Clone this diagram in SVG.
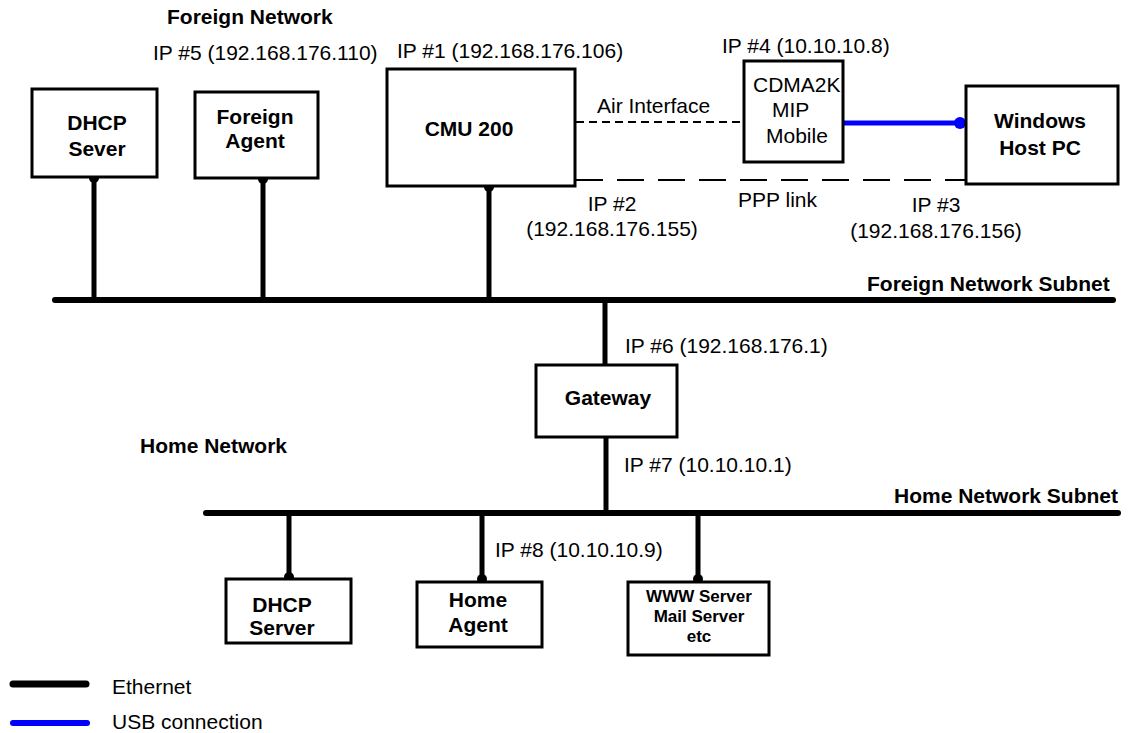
<svg xmlns="http://www.w3.org/2000/svg" width="1130" height="733" viewBox="0 0 1130 733">
<style>
text{font-family:"Liberation Sans",Arial,sans-serif;font-size:21px;fill:#000}
.b{font-weight:bold}
.s{font-size:17px;font-weight:bold}
.m{text-anchor:middle}
.box{fill:#fff;stroke:#000;stroke-width:3}
.eth{stroke:#000;stroke-width:6;stroke-linecap:round;fill:none}
.drop{stroke:#000;stroke-width:5;fill:none}
.usb{stroke:#0000ff;stroke-width:5;fill:none}
.air{stroke:#000;stroke-width:2;stroke-dasharray:8 5;fill:none}
.ppp{stroke:#000;stroke-width:2;stroke-dasharray:27 14;fill:none}
</style>
<rect width="1130" height="733" fill="#fff"/>
<g id="labels">
<text class="b" x="167" y="24">Foreign Network</text>
<text x="153" y="60">IP #5 (192.168.176.110)</text>
<text x="397" y="58">IP #1 (192.168.176.106)</text>
<text x="722" y="53">IP #4 (10.10.10.8)</text>
<text x="597" y="113">Air Interface</text>
<text x="738" y="207">PPP link</text>
<text class="m" x="612" y="211">IP #2</text>
<text class="m" x="612" y="236">(192.168.176.155)</text>
<text class="m" x="936" y="212">IP #3</text>
<text class="m" x="936" y="238">(192.168.176.156)</text>
<text class="b" x="867" y="291">Foreign Network Subnet</text>
<text x="625" y="353">IP #6 (192.168.176.1)</text>
<text class="b" x="140" y="453">Home Network</text>
<text x="624" y="472">IP #7 (10.10.10.1)</text>
<text class="b" text-anchor="end" x="1118" y="503">Home Network Subnet</text>
<text x="495" y="557">IP #8 (10.10.10.9)</text>
</g>
<g id="connectors">
<line class="eth" x1="55" y1="300" x2="1113" y2="300"/>
<line class="eth" x1="206" y1="513" x2="1118" y2="513"/>
<line class="drop" x1="94" y1="177" x2="94" y2="300"/>
<line class="drop" x1="263" y1="178" x2="263" y2="300"/>
<line class="drop" x1="489" y1="186" x2="489" y2="300"/>
<line class="drop" x1="605" y1="300" x2="605" y2="365"/>
<line class="drop" x1="606" y1="437" x2="606" y2="513"/>
<line class="drop" x1="289" y1="513" x2="289" y2="579"/>
<line class="drop" x1="482" y1="513" x2="482" y2="582"/>
<line class="drop" x1="698" y1="513" x2="698" y2="582"/>
<line class="air" x1="576" y1="122" x2="744" y2="122"/>
<line class="ppp" x1="576" y1="180" x2="966" y2="180"/>
<line class="usb" x1="843" y1="123" x2="960" y2="123"/>
<circle cx="94" cy="178" r="5"/>
<circle cx="263" cy="179" r="5"/>
<circle cx="489" cy="187" r="5"/>
<circle cx="289" cy="577" r="5"/>
<circle cx="482" cy="579" r="5"/>
<circle cx="698" cy="579" r="5"/>
<circle cx="960" cy="123" r="6" fill="#0000ff"/>
</g>
<g id="dhcp-sever">
<rect class="box" x="32" y="89" width="125" height="88"/>
<text class="b m" x="97" y="130">DHCP</text>
<text class="b m" x="97" y="156">Sever</text>
</g>
<g id="foreign-agent">
<rect class="box" x="195" y="92" width="123" height="86"/>
<text class="b m" x="255" y="124">Foreign</text>
<text class="b m" x="255" y="148">Agent</text>
</g>
<g id="cmu200">
<rect class="box" x="387" y="69" width="188" height="117"/>
<text class="b m" x="469" y="136">CMU 200</text>
</g>
<g id="cdma-mobile">
<rect class="box" x="744" y="61" width="99" height="101"/>
<text x="753" y="92">CDMA2K</text>
<text x="772" y="117">MIP</text>
<text x="766" y="143">Mobile</text>
</g>
<g id="windows-host">
<rect class="box" x="966" y="86" width="152" height="98"/>
<text class="b m" x="1040" y="128">Windows</text>
<text class="b m" x="1040" y="155">Host PC</text>
</g>
<g id="gateway">
<rect class="box" x="536" y="365" width="141" height="72"/>
<text class="b m" x="608" y="405">Gateway</text>
</g>
<g id="dhcp-server">
<rect class="box" x="226" y="579" width="125" height="64"/>
<text class="b m" x="282" y="612">DHCP</text>
<text class="b m" x="282" y="635">Server</text>
</g>
<g id="home-agent">
<rect class="box" x="417" y="582" width="125" height="65"/>
<text class="b m" x="478" y="607">Home</text>
<text class="b m" x="478" y="632">Agent</text>
</g>
<g id="www-server">
<rect class="box" x="628" y="582" width="141" height="73"/>
<text class="s m" x="699" y="602">WWW Server</text>
<text class="s m" x="699" y="622">Mail Server</text>
<text class="s m" x="699" y="642">etc</text>
</g>
<g id="legend">
<line x1="13" y1="684" x2="86" y2="684" stroke="#000" stroke-width="7" stroke-linecap="round"/>
<text x="112" y="694">Ethernet</text>
<line x1="13" y1="723" x2="87" y2="723" stroke="#0000ff" stroke-width="6" stroke-linecap="round"/>
<text x="112" y="729">USB connection</text>
</g>
</svg>
